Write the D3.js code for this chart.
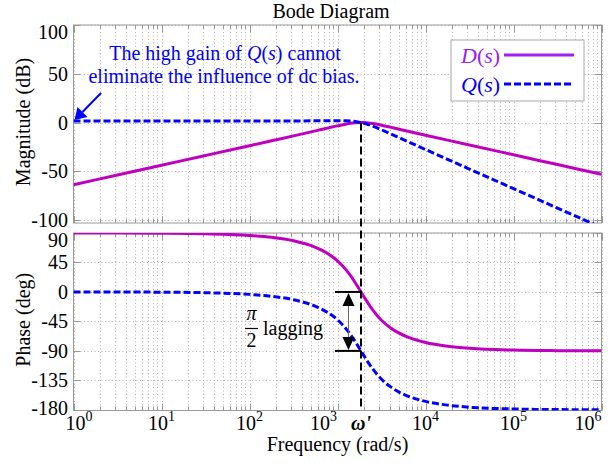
<!DOCTYPE html>
<html>
<head>
<meta charset="utf-8">
<script src="https://cdn.jsdelivr.net/npm/d3@7"></script>
<style>
  body { margin: 0; background: #fff; }
  svg text, svg tspan { font-family: "Liberation Serif", "Times New Roman", Times, "DejaVu Serif", serif; }
</style>
</head>
<body>
<svg id="chart" width="615" height="463" font-family="Liberation Serif, Times New Roman, serif"></svg>
<script>
// Frequency samples (rad/s)
const freq = [1, 3.162, 10, 31.62, 100, 177.8, 316.2, 562.3, 794.3, 1000, 1259, 1413, 1585, 1849,
              1995, 2239, 2512, 2818, 3162, 3981, 5012, 6310, 10000, 17783, 31623, 100000, 316228, 1000000];
// Magnitude (dB)
const dMag = [-63.76, -53.76, -43.76, -33.76, -23.75, -18.73, -13.69, -8.56, -5.44, -3.40, -1.56, -0.82, -0.28, 0,
              -0.07, -0.42, -1.03, -1.83, -2.74, -4.74, -6.82, -8.90, -13.00, -18.05, -23.07, -33.07, -43.07, -53.07];
const qMag = [1.58, 1.58, 1.58, 1.58, 1.59, 1.61, 1.65, 1.78, 1.90, 1.94, 1.78, 1.53, 1.06, 0,
              -0.73, -2.08, -3.69, -5.49, -7.40, -11.40, -15.48, -19.56, -27.66, -37.71, -47.73, -67.73, -87.73, -107.73];
// Phase (deg)
const dPhase = [89.96, 89.88, 89.63, 88.8, 86.3, 83.4, 78.1, 68.1, 57.7, 47.5, 33.3, 24.4, 14.5, 0,
                -7.2, -17.8, -27.4, -35.9, -43.2, -54.6, -62.9, -69.0, -77.1, -82.8, -86.0, -88.7, -89.6, -89.9];
const qPhase = [-0.04, -0.12, -0.37, -1.2, -3.7, -6.6, -11.9, -21.9, -32.3, -42.5, -56.7, -65.6, -75.5, -90,
                -97.2, -107.8, -117.4, -125.9, -133.2, -144.6, -152.9, -159.0, -167.1, -172.8, -176.0, -178.7, -179.6, -179.9];

const omegaPrime = 1849;          // crossover frequency ω'
const lagDeg = [0, -90];          // π/2 lagging between D and Q at ω'
const xTickExp = [0, 1, 2, 3, 4, 5, 6];
const magTicks = [100, 50, 0, -50, -100];
const phaseTicks = [90, 45, 0, -45, -90, -135, -180];

const FONT = '"Liberation Serif", "Times New Roman", serif';
const colD = "#C000C0", colDLegend = "#A020F0", colQ = "#0000FF";
const frameCol = "#999999", gridCol = "#b4b4b4";

const svg = d3.select("#chart").attr("font-family", FONT);
const left = 73.5, right = 601.5;
const magBox = { top: 25, bottom: 223 };
const phBox = { top: 233, bottom: 410.5 };

const x = d3.scaleLog().domain([1, 1e6]).range([left, right]);
const yMag = d3.scaleLinear().domain([-103, 100]).range([magBox.bottom, magBox.top]);
const yPh = d3.scaleLinear().domain([-181, 90]).range([phBox.bottom, phBox.top]);

const defs = svg.append("defs");
function clipFor(id, box) {
  defs.append("clipPath").attr("id", id).append("rect")
    .attr("x", left).attr("y", box.top).attr("width", right - left).attr("height", box.bottom - box.top);
}
clipFor("clipMag", magBox);
clipFor("clipPh", phBox);

const majors = xTickExp.map(e => Math.pow(10, e));
const minors = x.ticks().filter(v => !majors.includes(v));

function panel(box, y, ticks) {
  const g = svg.append("g");
  // grid
  const grid = g.append("g").attr("stroke", gridCol).attr("stroke-width", 1).attr("stroke-dasharray", "1,2.5");
  grid.selectAll(".vx").data(x.ticks()).join("line")
    .attr("x1", d => Math.round(x(d)) + 0.5).attr("x2", d => Math.round(x(d)) + 0.5)
    .attr("y1", box.top).attr("y2", box.bottom);
  grid.selectAll(".hy").data(ticks).join("line")
    .attr("x1", left).attr("x2", right)
    .attr("y1", d => Math.round(y(d)) + 0.5).attr("y2", d => Math.round(y(d)) + 0.5);

  // tick marks on all four sides
  const tk = g.append("g").attr("stroke", frameCol).attr("stroke-width", 1);
  [[box.bottom, -1], [box.top, 1]].forEach(([yy, dir]) => {
    tk.selectAll(null).data(majors).join("line")
      .attr("x1", d => Math.round(x(d)) + 0.5).attr("x2", d => Math.round(x(d)) + 0.5)
      .attr("y1", yy).attr("y2", yy + dir * 7);
    tk.selectAll(null).data(minors).join("line")
      .attr("x1", d => Math.round(x(d)) + 0.5).attr("x2", d => Math.round(x(d)) + 0.5)
      .attr("y1", yy).attr("y2", yy + dir * 4);
  });
  [[left, 1], [right, -1]].forEach(([xx, dir]) => {
    tk.selectAll(null).data(ticks).join("line")
      .attr("x1", xx).attr("x2", xx + dir * 7)
      .attr("y1", d => Math.round(y(d)) + 0.5).attr("y2", d => Math.round(y(d)) + 0.5);
  });

  // frame
  g.append("rect").attr("x", left).attr("y", box.top)
    .attr("width", right - left).attr("height", box.bottom - box.top)
    .attr("fill", "none").attr("stroke", frameCol).attr("stroke-width", 1);

  // y tick labels, kept inside the panel's vertical span
  g.append("g").selectAll("text").data(ticks).join("text")
    .attr("font-family", FONT)
    .attr("x", left - 5.5)
    .attr("y", d => Math.min(Math.max(y(d), box.top + 7), box.bottom - 3))
    .attr("dy", "0.35em")
    .attr("text-anchor", "end").attr("font-size", 20).attr("fill", "#000")
    .text(d => String(d));
  return g;
}

panel(magBox, yMag, magTicks);
panel(phBox, yPh, phaseTicks);

// curves
const idx = d3.range(freq.length);
function curve(yScale, values) {
  return d3.line().x(i => x(freq[i])).y(i => yScale(values[i])).curve(d3.curveMonotoneX)(idx);
}
const magG = svg.append("g").attr("clip-path", "url(#clipMag)");
magG.append("path").attr("d", curve(yMag, dMag)).attr("fill", "none")
  .attr("stroke", colD).attr("stroke-width", 3);
magG.append("path").attr("d", curve(yMag, qMag)).attr("fill", "none")
  .attr("stroke", colQ).attr("stroke-width", 3).attr("stroke-dasharray", "7,3");

const phG = svg.append("g").attr("clip-path", "url(#clipPh)");
phG.append("path").attr("d", curve(yPh, dPhase)).attr("fill", "none")
  .attr("stroke", colD).attr("stroke-width", 3);
phG.append("path").attr("d", curve(yPh, qPhase)).attr("fill", "none")
  .attr("stroke", colQ).attr("stroke-width", 3).attr("stroke-dasharray", "7,3");

// vertical marker at ω'
const xw = x(omegaPrime);
svg.append("line").attr("x1", xw).attr("x2", xw)
  .attr("y1", yMag(0)).attr("y2", phBox.bottom)
  .attr("stroke", "#000").attr("stroke-width", 2).attr("stroke-dasharray", "8,4");

// π/2 lagging bracket
const yA = yPh(lagDeg[0]), yB = yPh(lagDeg[1]);
const xArrow = xw - 12.5;
const br = svg.append("g");
[yA, yB].forEach(yy => br.append("line").attr("x1", xw - 26).attr("x2", xw)
  .attr("y1", yy).attr("y2", yy).attr("stroke", "#000").attr("stroke-width", 2));
br.append("line").attr("x1", xArrow).attr("x2", xArrow).attr("y1", yA + 10).attr("y2", yB - 10)
  .attr("stroke", "#666").attr("stroke-width", 1);
br.append("path").attr("d", `M${xArrow},${yA + 1}L${xArrow - 6},${yA + 14}L${xArrow + 6},${yA + 14}Z`).attr("fill", "#000");
br.append("path").attr("d", `M${xArrow},${yB - 1}L${xArrow - 6},${yB - 14}L${xArrow + 6},${yB - 14}Z`).attr("fill", "#000");

const frac = svg.append("g").attr("font-size", 20).attr("fill", "#000").attr("font-family", FONT);
frac.append("text").attr("x", 251.5).attr("y", 320).attr("text-anchor", "middle")
  .attr("font-style", "italic").text("π");
frac.append("line").attr("x1", 245).attr("x2", 258).attr("y1", 328.5).attr("y2", 328.5)
  .attr("stroke", "#000").attr("stroke-width", 1.2);
frac.append("text").attr("x", 251.5).attr("y", 347).attr("text-anchor", "middle").text("2");
frac.append("text").attr("x", 263).attr("y", 335).text("lagging");

// x tick labels with superscripts
const xl = svg.append("g").attr("font-size", 20).attr("fill", "#000").attr("font-family", FONT);
const omegaLabel = svg.append("text").attr("x", xw).attr("y", 430).attr("text-anchor", "middle")
  .attr("font-family", FONT)
  .attr("font-size", 20).attr("font-weight", "bold").attr("font-style", "italic").text("ω'");
const wBox = omegaLabel.node().getBBox();
xTickExp.forEach(e => {
  const t = xl.append("text").attr("y", 430);
  t.append("tspan").text("10");
  t.append("tspan").attr("dy", -9).attr("font-size", 14).text(e);
  const w = t.node().getBBox().width;
  let cx = x(Math.pow(10, e));
  cx = Math.max(cx, left - 8 + w / 2);
  cx = Math.min(cx, right - w / 2);
  if (cx + w / 2 > wBox.x - 12 && cx - w / 2 < wBox.x + wBox.width) cx = wBox.x - 14 - w / 2;
  t.attr("x", cx - w / 2);
});

// titles and axis labels
const labels = svg.append("g").attr("font-family", FONT).attr("font-size", 20);
labels.append("text").attr("x", 331).attr("y", 18).attr("text-anchor", "middle")
  .text("Bode Diagram");
labels.append("text").attr("x", (left + right) / 2).attr("y", 451).attr("text-anchor", "middle")
  .text("Frequency (rad/s)");
labels.append("text").attr("transform", `translate(30,${(magBox.top + magBox.bottom) / 2 - 2}) rotate(-90)`)
  .attr("text-anchor", "middle").text("Magnitude (dB)");
labels.append("text").attr("transform", `translate(30,${(phBox.top + phBox.bottom) / 2 - 2}) rotate(-90)`)
  .attr("text-anchor", "middle").text("Phase (deg)");

// dc-bias note with arrow
const note = svg.append("g").attr("font-size", 20).attr("fill", colQ).attr("font-family", FONT);
const l1 = note.append("text").attr("x", 225).attr("y", 60).attr("text-anchor", "middle");
l1.append("tspan").text("The high gain of ");
l1.append("tspan").attr("font-style", "italic").text("Q");
l1.append("tspan").text("(");
l1.append("tspan").attr("font-style", "italic").text("s");
l1.append("tspan").text(") cannot");
note.append("text").attr("x", 224).attr("y", 83).attr("text-anchor", "middle")
  .text("eliminate the influence of dc bias.");
const tipX = left + 1, tipY = yMag(qMag[0]) - 1;
svg.append("line").attr("x1", 101).attr("y1", 93).attr("x2", tipX + 8).attr("y2", tipY - 8)
  .attr("stroke", colQ).attr("stroke-width", 2);
svg.append("path").attr("d", `M${tipX},${tipY}L${tipX + 3},${tipY - 13}L${tipX + 13},${tipY - 3}Z`).attr("fill", colQ);

// legend
const lg = svg.append("g").attr("font-family", FONT);
lg.append("rect").attr("x", 451).attr("y", 40).attr("width", 133).attr("height", 61)
  .attr("fill", "#fff").attr("stroke", "#a8a8a8").attr("stroke-width", 1);
[["D", colDLegend, 63, null], ["Q", colQ, 92, "7,3"]].forEach(([nm, c, by, dash]) => {
  const t = lg.append("text").attr("x", 461).attr("y", by).attr("font-size", 22).attr("fill", c);
  t.append("tspan").attr("font-style", "italic").text(nm);
  t.append("tspan").text("(");
  t.append("tspan").attr("font-style", "italic").text("s");
  t.append("tspan").text(")");
  lg.append("line").attr("x1", 504).attr("x2", 574).attr("y1", by - 8).attr("y2", by - 8)
    .attr("stroke", c).attr("stroke-width", 3).attr("stroke-dasharray", dash);
});
</script>
</body>
</html>
